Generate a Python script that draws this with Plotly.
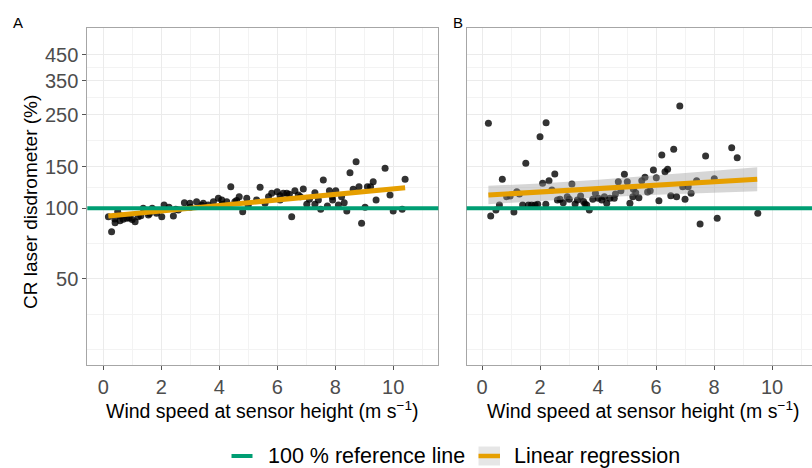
import plotly.graph_objects as go

W, H = 812, 468

# ---------------- data ----------------
a_wind = [0.18, 0.29, 0.41, 0.50, 0.58, 0.69, 0.81, 1.10, 1.21, 1.38, 1.56, 1.69, 1.84, 2.02, 2.10,
          2.27, 2.42, 2.59, 2.80, 2.99, 3.22, 3.45, 3.62, 3.80, 3.97, 4.09, 4.26, 4.40, 4.54, 4.69,
          4.81, 4.95, 5.29, 5.41, 5.58, 5.81, 6.00, 6.10, 6.21, 6.33, 6.42, 6.50, 6.61, 6.73, 6.90,
          7.02, 7.11, 7.30, 7.42, 7.50, 7.59, 7.73, 7.80, 7.91, 8.02, 8.11, 8.22, 8.31, 8.40, 8.51,
          8.62, 8.72, 8.82, 8.91, 9.03, 9.11, 9.22, 9.31, 9.41, 9.72, 9.89, 10.00, 10.31, 10.41,
          0.40, 0.90, 1.30, 2.50, 3.00, 3.40, 4.10, 5.00, 5.70, 6.80, 7.30, 0.60, 1.00, 1.60, 4.60,
          6.10, 7.90]
a_ratio = [92.1, 79.5, 86.8, 96.7, 88.5, 89.8, 90.7, 87.7, 92.1, 100.0, 93.6, 100.0, 95.2, 92.1, 103.3,
           101.0, 92.7, 98.3, 105.7, 105.0, 106.7, 105.0, 103.3, 106.7, 110.3, 108.5, 106.7, 123.6, 106.7, 112.1,
           96.7, 110.3, 108.5, 122.9, 105.0, 115.8, 117.7, 108.5, 115.8, 115.8, 114.7, 92.1, 118.8, 113.9, 120.8,
           104.0, 109.2, 116.5, 108.5, 99.0, 132.0, 102.3, 118.8, 108.5, 118.8, 103.3, 112.1, 105.7, 97.4, 141.8,
           120.5, 157.9, 123.6, 86.3, 101.0, 123.6, 123.6, 129.8, 108.5, 148.0, 114.0, 97.4, 99.0, 132.9,
           90.0, 91.0, 93.0, 99.0, 101.0, 103.0, 104.0, 103.0, 112.0, 112.0, 104.0, 93.0, 89.5, 95.0, 108.0,
           113.0, 112.0]

b_wind = [0.22, 0.30, 0.48, 0.60, 0.70, 0.85, 0.97, 1.10, 1.20, 1.29, 1.40, 1.51, 1.60, 1.71, 1.83,
          1.92, 2.00, 2.09, 2.21, 2.31, 2.41, 2.51, 2.60, 2.69, 2.80, 2.94, 3.01, 3.10, 3.21, 3.29,
          3.40, 3.55, 3.61, 3.70, 3.82, 3.91, 4.01, 4.13, 4.22, 4.30, 4.41, 4.56, 4.70, 4.79, 4.91,
          5.01, 5.10, 5.22, 5.30, 5.41, 5.51, 5.62, 5.71, 5.80, 5.91, 6.01, 6.10, 6.20, 6.31, 6.40,
          6.51, 6.61, 6.71, 6.82, 6.92, 7.00, 7.11, 7.21, 7.40, 7.52, 7.71, 8.01, 8.11, 8.61, 8.80,
          9.51, 3.50, 4.60, 2.20, 5.20]
b_ratio = [230.1, 92.7, 98.3, 103.3, 132.9, 112.1, 112.8, 96.4, 117.7, 115.1, 103.3, 155.5, 103.3, 103.3, 103.3,
           104.0, 201.8, 127.8, 231.5, 131.1, 119.7, 140.0, 108.5, 109.2, 105.7, 112.1, 109.2, 126.9, 104.3, 108.5,
           112.8, 104.3, 103.3, 98.3, 109.2, 115.8, 110.3, 108.5, 112.1, 105.0, 110.3, 110.3, 129.8, 118.8, 139.6,
           129.8, 105.0, 120.5, 116.5, 110.9, 131.1, 135.5, 117.3, 118.8, 145.6, 135.0, 107.7, 168.7, 143.2, 146.6,
           113.2, 178.3, 112.1, 272.8, 123.6, 109.2, 123.6, 115.8, 131.1, 85.7, 167.0, 133.7, 90.7, 181.2, 164.3,
           95.2, 107.0, 115.0, 104.0, 112.0]

# linear regression (on log scale) with confidence band
a_fit_wind = [0.18, 5.0, 10.41]
a_fit_ratio = [92.7, 105.7, 122.4]
a_band_lo = [91.0, 104.7, 120.2]
a_band_hi = [94.4, 106.6, 124.7]

b_fit_wind = [0.22, 2.0, 4.0, 6.0, 8.0, 9.49]
b_fit_ratio = [113.9, 117.3, 121.3, 125.4, 129.7, 132.9]
b_band_lo = [104.1, 107.8, 111.3, 114.2, 116.4, 118.1]
b_band_hi = [124.7, 127.6, 132.2, 137.8, 144.4, 149.5]

reference_value = 100

x_breaks = [0, 2, 4, 6, 8, 10]
x_minor_breaks = [1, 3, 5, 7, 9, 11]
y_breaks = [50, 100, 150, 250, 350, 450]
y_labels = ["50", "100", "150", "250", "350", "450"]
y_minor_breaks = [25, 35.36, 70.71, 122.47, 193.65, 295.80, 396.86]

panel_labels = ["A", "B"]
y_title = "CR laser disdrometer (%)"
x_title = "Wind speed at sensor height (m s<sup>−1</sup>)"
legend_labels = ["100 % reference line", "Linear regression"]

# ---------------- styling ----------------
FONT = "Liberation Sans, Arial, sans-serif"
GREEN = "#009E73"
ORANGE = "#E69F00"
RIBBON = "rgba(153,153,153,0.4)"
POINT = "rgba(0,0,0,0.8)"
BORDER = "#a6a6a6"
GRID = "#ebebeb"
MINOR = "#f3f3f3"


def px(p):
    return p / W


def py(p):
    return 1 - p / H


fig = go.Figure()

panels = [
    dict(xa="x", ya="y", wind=a_wind, ratio=a_ratio, fx=a_fit_wind, fy=a_fit_ratio, lo=a_band_lo, hi=a_band_hi),
    dict(xa="x2", ya="y2", wind=b_wind, ratio=b_ratio, fx=b_fit_wind, fy=b_fit_ratio, lo=b_band_lo, hi=b_band_hi),
]

shapes = []
for p in panels:
    fig.add_trace(go.Scatter(x=p["wind"], y=p["ratio"], mode="markers", xaxis=p["xa"], yaxis=p["ya"],
                             marker=dict(size=7, color=POINT, line=dict(width=0)), showlegend=False,
                             hoverinfo="skip"))
    fig.add_trace(go.Scatter(x=p["fx"], y=p["lo"], mode="lines", xaxis=p["xa"], yaxis=p["ya"],
                             line=dict(width=0, color=RIBBON), showlegend=False, hoverinfo="skip"))
    fig.add_trace(go.Scatter(x=p["fx"], y=p["hi"], mode="lines", xaxis=p["xa"], yaxis=p["ya"],
                             line=dict(width=0, color=RIBBON), fill="tonexty", fillcolor=RIBBON,
                             showlegend=False, hoverinfo="skip"))
    fig.add_trace(go.Scatter(x=p["fx"], y=p["fy"], mode="lines", xaxis=p["xa"], yaxis=p["ya"],
                             line=dict(width=5, color=ORANGE), showlegend=False, hoverinfo="skip"))
    shapes.append(dict(type="line", xref=p["xa"] + " domain", x0=0, x1=1, yref=p["ya"],
                       y0=reference_value, y1=reference_value, line=dict(color=GREEN, width=4), layer="above"))

tickfont = dict(family=FONT, size=20, color="#4d4d4d")

common_x = dict(tickmode="array", tickvals=x_breaks, showgrid=True, gridcolor=GRID, gridwidth=1.3,
                minor=dict(tickmode="array", tickvals=x_minor_breaks, showgrid=True, gridcolor=MINOR, gridwidth=1),
                zeroline=False, showline=True, mirror=True, linecolor=BORDER, linewidth=1,
                ticks="outside", ticklen=4, tickwidth=1, tickcolor="#555555", tickfont=tickfont)
common_y = dict(type="log", tickmode="array", tickvals=y_breaks, ticktext=y_labels,
                showgrid=True, gridcolor=GRID, gridwidth=1.3,
                minor=dict(tickmode="array", tickvals=y_minor_breaks, showgrid=True, gridcolor=MINOR, gridwidth=1),
                zeroline=False, showline=True, linecolor=BORDER, linewidth=1,
                range=[1.3326, 2.7666], domain=[py(365), py(28.3)])

# legend keys (drawn by hand to match the compact ggplot legend)
shapes.append(dict(type="line", xref="paper", yref="paper", x0=px(231.5), x1=px(252.5), y0=py(456), y1=py(456),
                   line=dict(color=GREEN, width=4)))
shapes.append(dict(type="rect", xref="paper", yref="paper", x0=px(478.5), x1=px(500), y0=py(465.5), y1=py(446.5),
                   fillcolor="#e6e6e6", line=dict(width=0)))
shapes.append(dict(type="line", xref="paper", yref="paper", x0=px(478.5), x1=px(500), y0=py(456), y1=py(456),
                   line=dict(color=ORANGE, width=4.5)))


def note(text, x, y, size, xanchor="center", **kw):
    return dict(text=text, x=px(x), y=py(y), xref="paper", yref="paper", xanchor=xanchor,
                yanchor="middle", showarrow=False, font=dict(size=size, color="black"), **kw)


ann = [
    note(panel_labels[0], 17.5, 22.5, 15),
    note(panel_labels[1], 457.5, 22.5, 15),
    note(y_title, 30, 202, 19, textangle=-90),
    note(x_title, 262.8, 410, 19.5),
    note(x_title, 643, 410, 19.5),
    note(legend_labels[0], 265.5, 456, 21.5, xanchor="left"),
    note(legend_labels[1], 512, 456, 21.5, xanchor="left"),
]

fig.update_layout(
    width=W, height=H, margin=dict(l=0, r=0, t=0, b=0),
    paper_bgcolor="white", plot_bgcolor="white", showlegend=False,
    font=dict(family=FONT, color="black"),
    xaxis=dict(common_x, domain=[px(87.3), px(438.3)], range=[-0.548, 11.555], anchor="y"),
    yaxis=dict(common_y, anchor="x", mirror=True, ticks="outside", ticklen=4, tickwidth=1,
               tickcolor="#555555", tickfont=tickfont),
    xaxis2=dict(common_x, domain=[px(466.7), 1.0], range=[-0.528, 11.379], anchor="y2"),
    yaxis2=dict(common_y, anchor="x2", showticklabels=False, ticks=""),
    shapes=shapes,
    annotations=ann,
)

fig.write_html("out.html")
